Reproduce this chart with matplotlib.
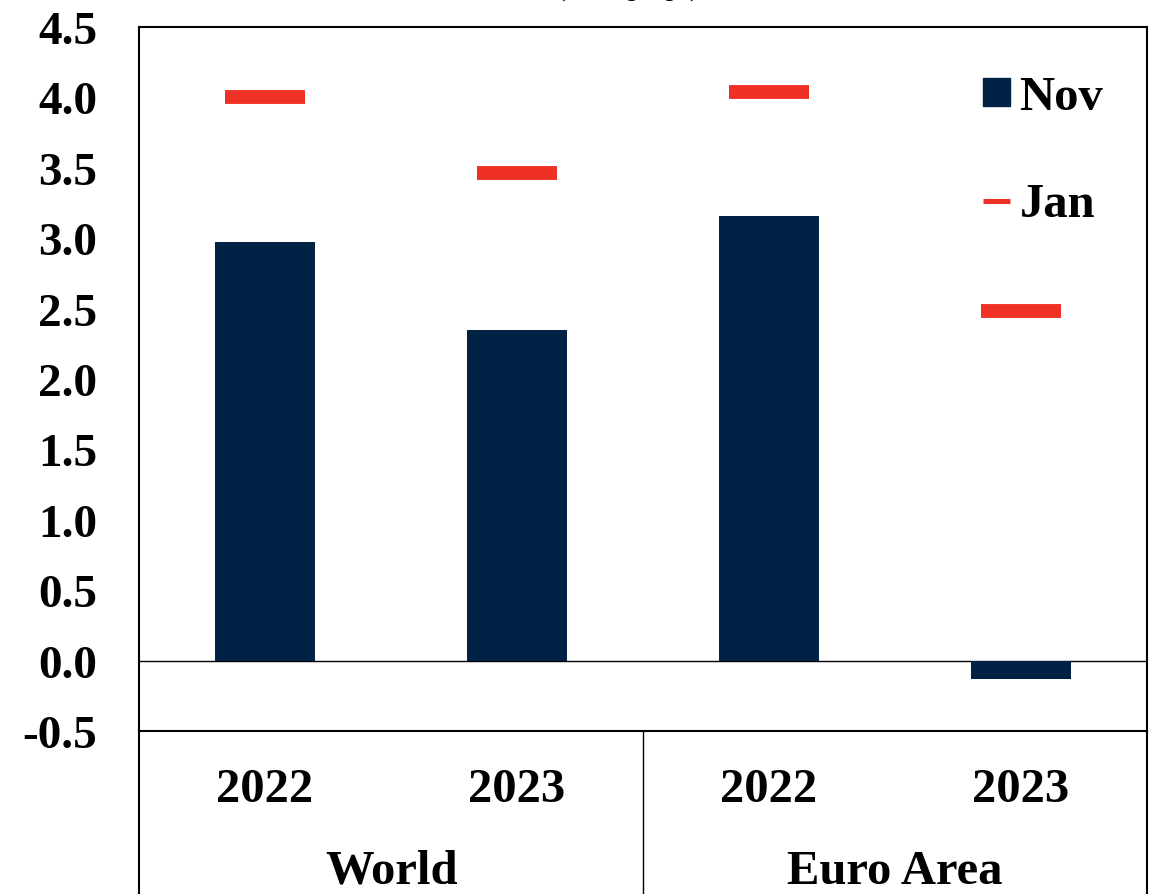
import matplotlib
matplotlib.use("Agg")
import matplotlib.pyplot as plt
from matplotlib.patches import Patch
from matplotlib.lines import Line2D

plt.rcParams['font.family'] = ['Liberation Serif', 'DejaVu Serif']
plt.rcParams['font.weight'] = 'bold'

groups = ["World", "Euro Area"]
years = ["2022", "2023", "2022", "2023"]
nov = [2.97, 2.35, 3.16, -0.13]
jan = [4.0, 3.46, 4.04, 2.48]

NAVY = "#002244"
RED = "#EE3124"
W, H = 1163, 895
FS = 35

fig = plt.figure(figsize=(W / 100, H / 100), dpi=100)
ax = fig.add_axes([139 / W, 1 - 732 / H, 1008 / W, 704 / H])

x = list(range(len(nov)))
ax.bar(x, nov, width=0.4, color=NAVY, zorder=2)
ax.hlines(jan, [i - 0.16 for i in x], [i + 0.16 for i in x], colors=RED,
          linewidth=10, capstyle='butt', zorder=3)
ax.axhline(0, color='black', lw=1, zorder=1)

ax.set_xlim(-0.5, 3.5)
ax.set_ylim(-0.5, 4.5)
ax.set_yticks([i * 0.5 for i in range(-1, 10)])
ax.set_yticklabels([f"{i * 0.5:.1f}" for i in range(-1, 10)])
ax.tick_params(axis='y', length=0, pad=30, labelsize=34)
ax.set_xticks([])
for s in ax.spines.values():
    s.set_linewidth(1.5)

# category table below the plot
depth = (H - 732 + 10) / 704
for xa in (0, 0.5, 1):
    ax.plot([xa, xa], [0, -depth], transform=ax.transAxes, color='black',
            lw=1.5 if xa != 0.5 else 1, clip_on=False)
for i, yr in enumerate(years):
    ax.text(i, -(790 - 732) / 704, yr, transform=ax.get_xaxis_transform(),
            ha='center', va='center', fontsize=FS, fontweight='bold')
for j, g in enumerate(groups):
    ax.text(0.5 + 2 * j, -(872 - 732) / 704, g, transform=ax.get_xaxis_transform(),
            ha='center', va='center', fontsize=FS, fontweight='bold')

# clipped title at top
fig.text(628 / W, 1 + 20 / H, "(% y/y)", ha='center', va='center', fontsize=FS)

handles = [Patch(facecolor=NAVY, edgecolor=NAVY),
           Line2D([0], [0], color=RED, lw=3.6, solid_capstyle='butt')]
ax.legend(handles, ["Nov", "Jan"], loc='upper left',
          bbox_to_anchor=(983 / W, 1 - 76 / H), bbox_transform=fig.transFigure,
          frameon=False, handlelength=0.55, handleheight=0.5,
          handletextpad=0.2, labelspacing=1.3, borderpad=0, borderaxespad=0,
          prop={'weight': 'bold', 'size': FS})

fig.savefig("out.png", dpi=100)
